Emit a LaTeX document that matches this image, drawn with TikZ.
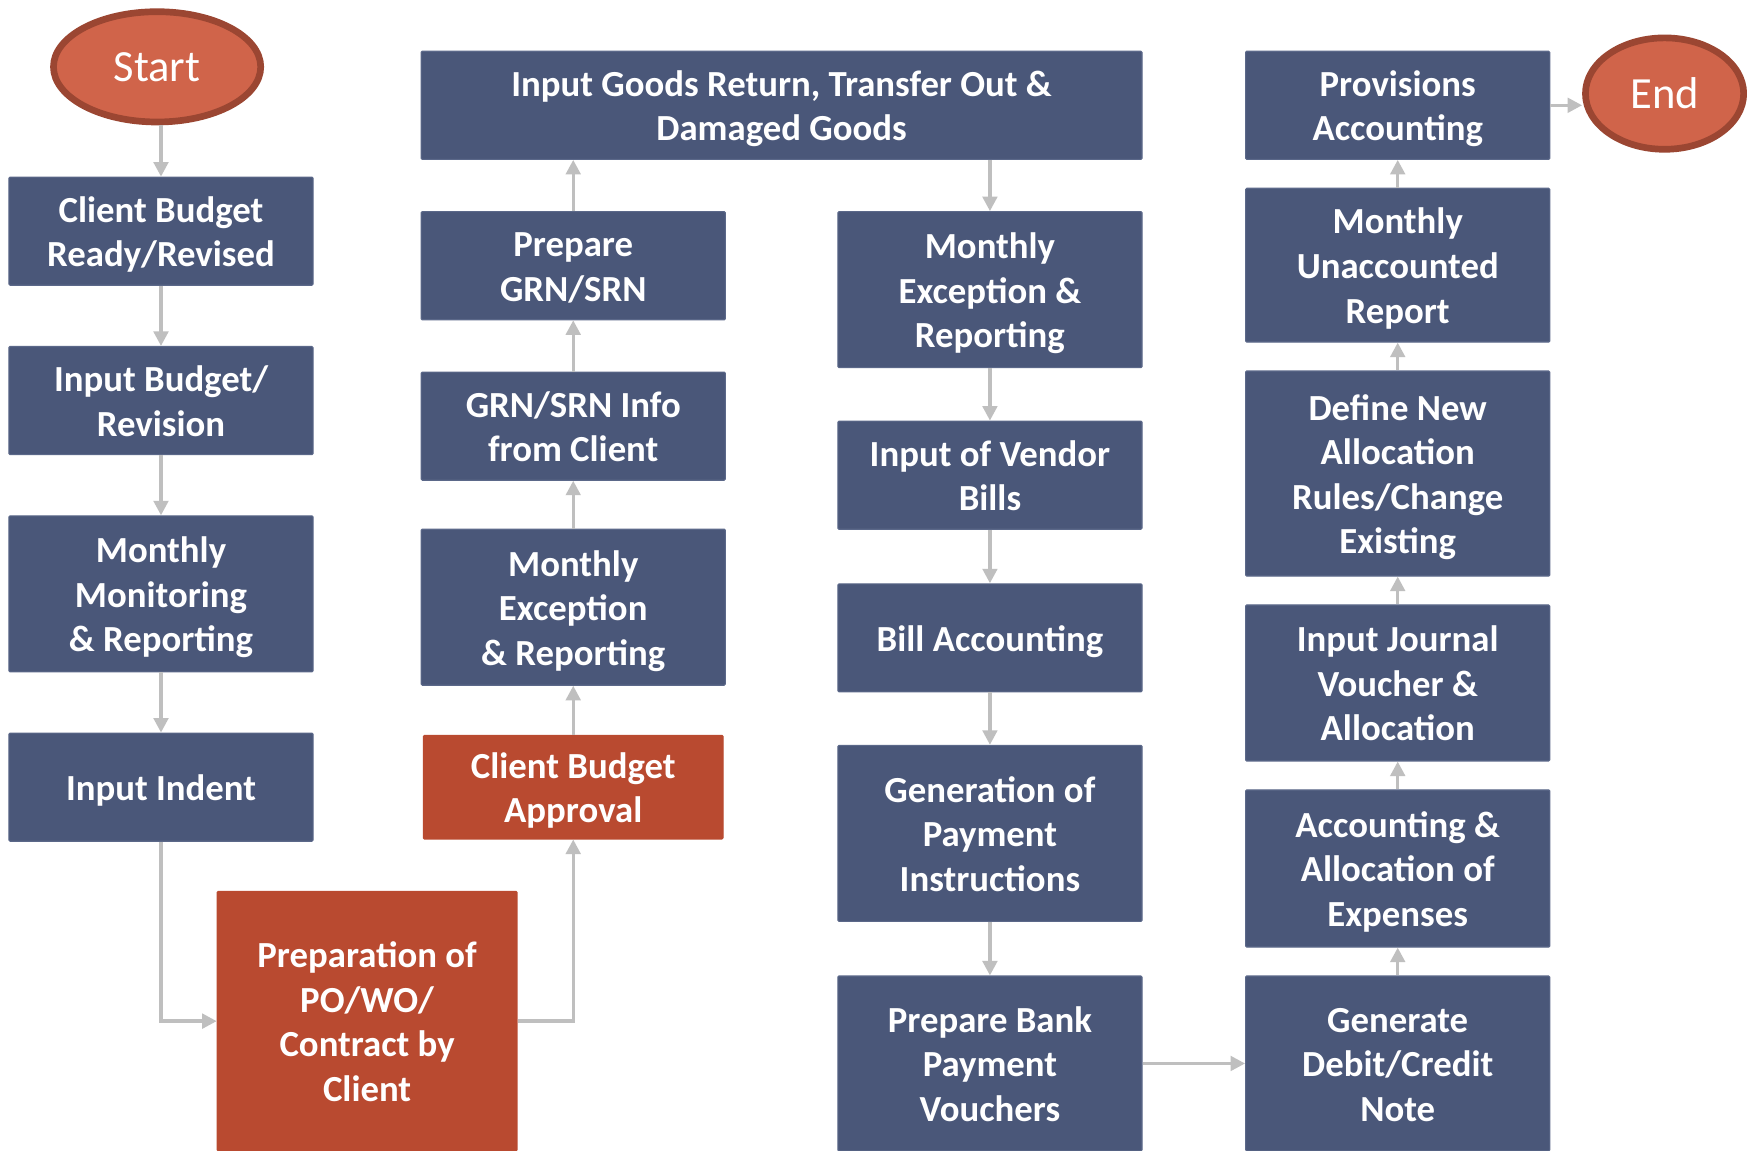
\documentclass[tikz,border=0pt]{standalone}
\usepackage{fontspec}
\setmainfont{Carlito}
\usetikzlibrary{arrows.meta,shapes.geometric}
\definecolor{boxblue}{HTML}{4A5779}
\definecolor{boxedge}{HTML}{5B6889}
\definecolor{boxred}{HTML}{B94A30}
\definecolor{termfill}{HTML}{D0644A}
\definecolor{termedge}{HTML}{9B4632}
\definecolor{arrgray}{HTML}{BFBFBF}
\begin{document}
\begin{tikzpicture}[x=1pt,y=-1pt,
  bx/.style={rectangle, fill=boxblue, draw=boxedge, line width=1pt, rounded corners=1pt,
    text=white, font=\fontsize{33}{40}\selectfont\bfseries, align=center,
    inner sep=0pt, minimum width=273pt, text depth=0pt},
  one/.style={text height=24pt},
  two/.style={text height=64pt},
  three/.style={text height=104pt},
  four/.style={text height=144pt},
  rbx/.style={bx, fill=boxred, draw=boxred, minimum width=269pt},
  arr/.style={draw=arrgray, line width=3pt, -{Triangle[length=13pt,width=13pt]}},
  term/.style={ellipse, fill=termfill, draw=termedge, line width=6pt, text=white,
    font=\fontsize{40}{48}\selectfont, inner sep=0pt}]
\useasboundingbox (0,0) rectangle (1568,1033);
\fill[white] (0,0) rectangle (1568,1033);

% terminals
\node[term, minimum width=186pt, minimum height=99pt] (start) at (141,60) {Start};
\node[term, minimum width=142pt, minimum height=100pt] (end) at (1494,84) {End};

% column 1
\node[bx, two, minimum height=97pt] (cbr) at (144.5,207.5) {Client Budget\\Ready/Revised};
\node[bx, two, minimum height=97pt] (ibr) at (144.5,359.5) {Input Budget/\\Revision};
\node[bx, three, minimum height=140pt] (mmr) at (144.5,533) {Monthly\\Monitoring\\\& Reporting};
\node[bx, one, minimum height=97pt] (ii) at (144.5,706.5) {Input Indent};

% column 2
\node[bx, two, minimum width=647pt, minimum height=97pt] (igr) at (701.5,94.5) {Input Goods Return, Transfer Out \&\\Damaged Goods};
\node[bx, two, minimum height=97pt] (pgrn) at (514.5,238.5) {Prepare\\GRN/SRN};
\node[bx, two, minimum height=97pt] (ginfo) at (514.5,382.5) {GRN/SRN Info\\from Client};
\node[bx, three, minimum height=140pt] (mer2) at (514.5,545) {Monthly\\Exception\\\& Reporting};
\node[rbx, two, minimum height=93pt] (cba) at (514.5,706.5) {Client Budget\\Approval};
\node[rbx, four, minimum height=233pt] (prep) at (329.5,916.5) {Preparation of\\PO/WO/\\Contract by\\Client};

% column 3
\node[bx, three, minimum height=140pt] (mer3) at (888.5,260) {Monthly\\Exception \&\\Reporting};
\node[bx, two, minimum height=97pt] (ivb) at (888.5,426.5) {Input of Vendor\\Bills};
\node[bx, one, minimum height=97pt] (ba) at (888.5,572.5) {Bill Accounting};
\node[bx, three, minimum height=158pt] (gpi) at (888.5,748) {Generation of\\Payment\\Instructions};
\node[bx, three, minimum height=157pt] (pbpv) at (888.5,954.5) {Prepare Bank\\Payment\\Vouchers};

% column 4
\node[bx, two, minimum height=97pt] (pa) at (1254.5,94.5) {Provisions\\Accounting};
\node[bx, three, minimum height=138pt] (mur) at (1254.5,238) {Monthly\\Unaccounted\\Report};
\node[bx, four, minimum height=184pt] (dnar) at (1254.5,425) {Define New\\Allocation\\Rules/Change\\Existing};
\node[bx, three, minimum height=140pt] (ijv) at (1254.5,613) {Input Journal\\Voucher \&\\Allocation};
\node[bx, three, minimum height=141pt] (aae) at (1254.5,779.5) {Accounting \&\\Allocation of\\Expenses};
\node[bx, three, minimum height=157pt] (gdcn) at (1254.5,954.5) {Generate\\Debit/Credit\\Note};

% connectors
\draw[arr] (start.south -| cbr.north) -- (cbr.north);
\draw[arr] (cbr) -- (ibr);
\draw[arr] (ibr) -- (mmr);
\draw[arr] (mmr) -- (ii);
\draw[arr] (ii.south) |- (prep.west);
\draw[arr] (prep.east) -| (cba.south);
\draw[arr] (cba) -- (mer2);
\draw[arr] (mer2) -- (ginfo);
\draw[arr] (ginfo) -- (pgrn);
\draw[arr] (pgrn.north) -- (pgrn.north |- igr.south);
\draw[arr] (igr.south -| mer3.north) -- (mer3.north);
\draw[arr] (mer3) -- (ivb);
\draw[arr] (ivb) -- (ba);
\draw[arr] (ba) -- (gpi);
\draw[arr] (gpi) -- (pbpv);
\draw[arr] (pbpv) -- (gdcn);
\draw[arr] (gdcn) -- (aae);
\draw[arr] (aae) -- (ijv);
\draw[arr] (ijv) -- (dnar);
\draw[arr] (dnar) -- (mur);
\draw[arr] (mur) -- (pa);
\draw[arr] (pa.east) -- (pa.east -| end.west);
\end{tikzpicture}
\end{document}
